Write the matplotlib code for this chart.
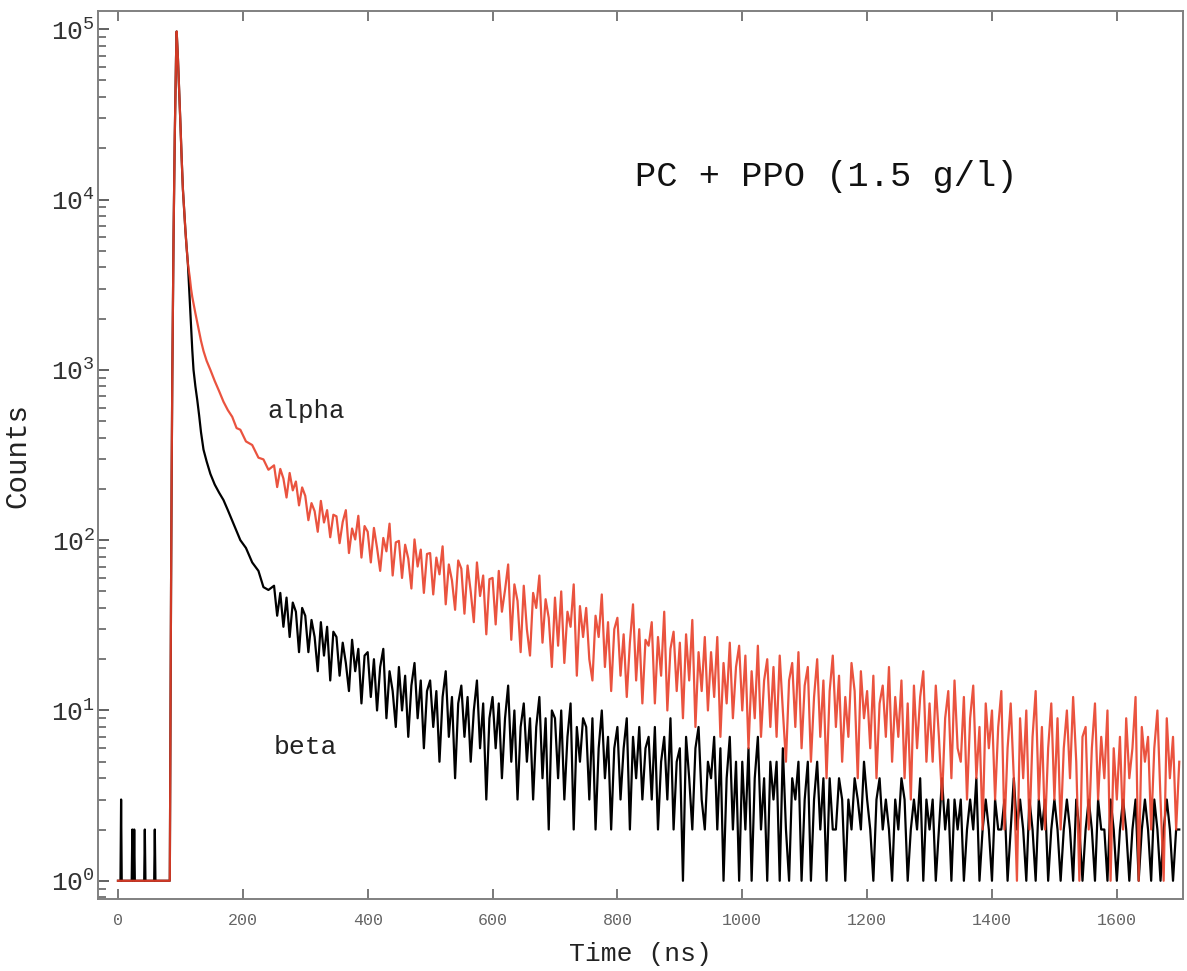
import numpy as np
import matplotlib
matplotlib.use("Agg")
import matplotlib.pyplot as plt
from matplotlib.ticker import LogLocator, FixedLocator, NullFormatter

plt.rcParams['font.family'] = ['Liberation Mono', 'DejaVu Sans Mono']

# ---------------- data ----------------
# shared time axis, early part (ns)
time_head = [0, 4, 5, 6, 22, 23, 24, 25, 26, 27, 42, 43, 44, 58, 59, 60,
             83, 84, 85, 86, 87, 88, 89, 90, 91, 92, 93, 94, 96, 98, 100,
             102, 104, 106, 108, 110, 112, 115, 117, 119, 121, 124, 127,
             130, 133, 137, 142, 148, 155, 162, 169, 176, 183, 190, 196,
             205, 215, 225, 233, 241]

beta_head = [1, 1, 3, 1, 1, 2, 1, 1, 2, 1, 1, 2, 1, 1, 2, 1,
             1, 8, 50, 250, 900, 2500, 6000, 12000, 24000, 42000, 68000, 97000,
             68000, 44000, 28000, 17500, 11500, 8600, 6600, 5200, 4200,
             2570, 1800, 1310, 1000, 800, 665, 540, 430, 340, 290, 245,
             212, 190, 172, 150, 130, 113, 100, 90, 74, 66, 53, 51]

alpha_head = [1, 1, 1, 1, 1, 1, 1, 1, 1, 1, 1, 1, 1, 1, 1, 1,
              1, 8, 50, 250, 900, 2500, 6000, 12000, 24000, 42000, 68000, 97000,
              68000, 44000, 28000, 17500, 11500, 8600, 6600, 5200, 4200,
              3500, 3000, 2680, 2450, 2150, 1900, 1680, 1480, 1290, 1130, 1000,
              860, 750, 650, 580, 530, 455, 445, 380, 362, 305, 298, 259]

# later part, sampled every 5 ns from 250 to 1700 ns
tail_start, tail_stop, tail_step = 250, 1700, 5

alpha_tail = [
    275, 205, 262, 230, 178, 248, 196, 221, 160, 204,
    182, 131, 165, 148, 112, 170, 127, 150, 104, 141,
    138, 96, 128, 150, 84, 117, 101, 139, 79, 121,
    112, 74, 118, 90, 66, 103, 86, 125, 62, 97,
    99, 60, 94, 78, 52, 101, 70, 88, 49, 83,
    84, 48, 79, 63, 92, 42, 72, 58, 39, 76,
    68, 37, 71, 50, 33, 74, 47, 62, 28, 59,
    60, 32, 66, 38, 51, 72, 26, 55, 44, 22,
    54, 30, 21, 49, 40, 62, 25, 45, 35, 18,
    46, 24, 50, 19, 38, 31, 55, 16, 41, 27,
    40, 20, 15, 36, 27, 48, 18, 33, 13, 30,
    35, 16, 28, 12, 25, 42, 15, 30, 11, 26,
    24, 33, 11, 27, 16, 38, 10, 23, 29, 13,
    25, 9, 28, 15, 34, 8, 22, 13, 27, 10,
    22, 12, 27, 7, 19, 11, 25, 9, 18, 24,
    10, 21, 6, 17, 9, 24, 7, 15, 20, 8,
    18, 7, 21, 10, 5, 15, 19, 8, 22, 6,
    14, 18, 5, 12, 20, 7, 15, 4, 13, 21,
    8, 16, 5, 12, 7, 19, 13, 4, 17, 9,
    13, 6, 16, 4, 11, 14, 7, 18, 5, 12,
    7, 15, 4, 11, 3, 14, 6, 12, 17, 5,
    11, 5, 14, 7, 3, 9, 13, 4, 15, 6,
    5, 12, 3, 9, 14, 4, 8, 2, 11, 6,
    10, 3, 8, 13, 2, 6, 11, 4, 1, 9,
    4, 10, 2, 7, 13, 3, 8, 2, 6, 11,
    3, 9, 2, 6, 10, 4, 12, 5, 1, 7,
    8, 2, 6, 11, 3, 7, 4, 10, 1, 6,
    3, 7, 2, 9, 4, 6, 12, 1, 8, 5,
    7, 2, 6, 10, 3, 1, 9, 4, 7, 2,
    5]

beta_tail = [
    54, 36, 49, 31, 46, 27, 43, 38, 22, 40,
    36, 22, 34, 27, 17, 33, 21, 31, 15, 29,
    27, 16, 25, 19, 13, 26, 17, 23, 11, 21,
    22, 12, 20, 10, 18, 23, 9, 17, 13, 8,
    18, 10, 16, 7, 14, 19, 9, 15, 6, 13,
    15, 8, 13, 5, 12, 17, 7, 12, 4, 11,
    14, 7, 12, 5, 10, 15, 6, 11, 3, 9,
    12, 6, 11, 4, 9, 14, 5, 10, 3, 8,
    11, 5, 9, 3, 8, 12, 4, 9, 2, 10,
    9, 4, 10, 3, 7, 11, 2, 8, 5, 9,
    8, 3, 9, 2, 6, 10, 4, 7, 2, 6,
    8, 3, 6, 9, 2, 7, 4, 8, 3, 6,
    7, 3, 8, 2, 5, 7, 3, 9, 2, 5,
    6, 1, 7, 4, 2, 6, 8, 3, 2, 5,
    4, 7, 2, 6, 1, 4, 7, 2, 5, 1,
    5, 2, 6, 1, 4, 7, 2, 4, 1, 5,
    3, 5, 1, 6, 2, 1, 4, 3, 5, 1,
    3, 5, 1, 3, 5, 2, 4, 1, 4, 2,
    2, 4, 3, 1, 3, 2, 4, 3, 2, 5,
    3, 2, 1, 3, 4, 2, 3, 2, 1, 3,
    2, 4, 3, 1, 2, 3, 2, 4, 1, 3,
    2, 3, 1, 2, 4, 2, 3, 1, 3, 2,
    3, 1, 2, 3, 2, 4, 1, 2, 3, 2,
    1, 3, 2, 2, 3, 1, 2, 4, 2, 3,
    2, 1, 3, 2, 1, 3, 2, 3, 1, 2,
    3, 2, 1, 2, 3, 2, 1, 3, 2, 1,
    2, 3, 2, 1, 3, 2, 2, 1, 3, 2,
    1, 2, 3, 2, 1, 2, 3, 1, 2, 3,
    2, 1, 3, 2, 1, 2, 3, 2, 1, 2,
    2]

title_text = "PC + PPO (1.5 g/l)"
series_labels = ["alpha", "beta"]
x_ticks = [0, 200, 400, 600, 800, 1000, 1200, 1400, 1600]

# ---------------- build series ----------------
time_tail = list(range(tail_start, tail_stop + 1, tail_step))
time_all = np.array(time_head + time_tail, dtype=float)
alpha_all = np.array(alpha_head + alpha_tail, dtype=float)
beta_all = np.array(beta_head + beta_tail, dtype=float)

W, H = 1187, 971
fig = plt.figure(figsize=(W / 100, H / 100), dpi=100)
ax = fig.add_axes([98 / W, 1 - 899 / H, (1183 - 98) / W, (899 - 11) / H])

ax.plot(time_all, beta_all, color='black', lw=1.6, zorder=2)
ax.plot(time_all, alpha_all, color='#e8402a', lw=1.6, alpha=0.9, zorder=3)

ax.set_yscale('log')
ax.set_xlim(-32, 1706)
ax.set_ylim(10 ** -0.107, 10 ** 5.107)

ax.xaxis.set_major_locator(FixedLocator(x_ticks))
ax.yaxis.set_major_locator(LogLocator(base=10, numticks=10))
ax.yaxis.set_minor_locator(LogLocator(base=10, subs=np.arange(2, 10), numticks=20))
ax.yaxis.set_minor_formatter(NullFormatter())

for s in ax.spines.values():
    s.set_color('#808080')
    s.set_linewidth(1.4)

ax.tick_params(axis='both', which='both', direction='in', color='#555555')
ax.tick_params(axis='x', which='major', length=7, width=1.1, top=True,
               labelsize=12, labelcolor='#666666', pad=10)
ax.tick_params(axis='y', which='major', length=8, width=1.3, right=False,
               labelsize=19, labelcolor='#333333', pad=2)
ax.tick_params(axis='y', which='minor', length=6, width=1.1, right=False)

ax.set_xlabel("Time (ns)", fontsize=19, color='#222222', labelpad=10)
ax.set_ylabel("Counts", fontsize=21, color='#222222', labelpad=14)

ax.text(1134, 13600, title_text, fontsize=25.5, color='#111111',
        ha='center', va='center')
ax.text(301, 575, series_labels[0], fontsize=18.5, color='#222222',
        ha='center', va='center')
ax.text(301, 6.1, series_labels[1], fontsize=19, color='#222222',
        ha='center', va='center')

fig.savefig("out.png", dpi=100)
